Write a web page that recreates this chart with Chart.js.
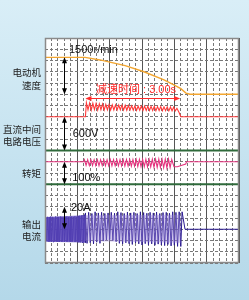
<!DOCTYPE html>
<html><head><meta charset="utf-8">
<script src="https://cdn.jsdelivr.net/npm/chart.js@4.4.0/dist/chart.umd.min.js"></script>
<style>
html,body{margin:0;padding:0;}
body{width:249px;height:300px;background:linear-gradient(#d9eef7,#b4d8e9);overflow:hidden;}
canvas{display:block;}
</style></head><body>
<canvas id="c" width="249" height="300"></canvas>
<script>
// ---- data (grid divisions: x 0..30 minor divs, y 0..20 divs from bottom) ----
const greenLevels = [10, 7];

const speedX = [0, 6.2, 8.5, 12.4, 15.3, 18.4, 20.0, 21.0, 21.8, 22.4, 30];
const speedY = [18.28, 18.28, 18.05, 17.55, 17.0, 16.27, 15.82, 15.5, 15.1, 15.0, 15.0];

const voltageHeadX = [0, 6.25];
const voltageHeadY = [13, 13];
const voltageWaveStart = 6.4, voltageWaveStep = 0.25;
const voltageWave = [14.25,13.62, 14.22,13.6, 14.2,13.63, 14.18,13.6, 14.15,13.62, 14.12,13.6, 14.1,13.62, 14.08,13.6, 14.06,13.61, 14.05,13.6, 14.04,13.62, 14.03,13.6, 14.02,13.58, 14.0,13.6, 13.98,13.58, 13.97,13.57, 13.96,13.58, 13.95,13.56, 13.94,13.56, 13.93,13.55, 13.92,13.55, 13.92,13.54, 13.9,13.55, 13.9,13.53, 13.88,13.54, 13.88,13.52, 13.87,13.53, 13.86,13.52];
const voltageTailX = [20.4, 20.75, 21.0, 30];
const voltageTailY = [13.75, 13.35, 13.0, 13.0];

const torqueHeadX = [0, 6.0];
const torqueHeadY = [9, 9];
const torqueWaveStart = 6.1, torqueWaveStep = 0.25;
const torqueWave = [9.17,8.68, 9.18,8.66, 9.17,8.67, 9.18,8.66, 9.17,8.65, 9.18,8.66, 9.17,8.65, 9.18,8.66, 9.19,8.64, 9.18,8.65, 9.19,8.63, 9.18,8.64, 9.19,8.62, 9.2,8.62, 9.19,8.6, 9.2,8.6, 9.2,8.58, 9.21,8.58, 9.2,8.56, 9.21,8.55, 9.21,8.54, 9.22,8.52, 9.22,8.5, 9.23,8.5, 9.22,8.48, 9.23,8.47, 9.22,8.47, 9.2];
const torqueTailX = [19.95, 20.46, 21.76, 21.88, 30];
const torqueTailY = [8.56, 8.56, 8.8, 9.0, 9.0];

// dense part of the output current (before deceleration)
const currentDenseStart = 0, currentDenseStep = 0.125;
const currentDense = [3.0, 4.05,1.95, 4.1,1.9, 4.08,1.92, 4.12,1.9, 4.1,1.88, 4.05,1.92, 4.12,1.9, 4.1,1.9, 4.08,1.88, 4.12,1.92, 4.1,1.9, 4.05,1.88, 4.1,1.92, 4.12,1.9, 4.08,1.9, 4.1,1.88, 4.12,1.9, 4.1,1.92, 4.15,1.88, 4.1,1.86, 4.18,1.85, 4.2,1.84, 4.22,1.82, 4.25,1.82, 4.3,1.8];
// sparser part during deceleration
const currentWaveStart = 6.25, currentWaveStep = 0.25;
const currentWave = [4.45,1.75, 4.5,1.8, 4.4,1.7, 4.55,1.85, 4.45,1.75, 4.5,1.95, 4.4,2.05, 4.45,2.1, 4.5,2.0, 4.42,1.9, 4.55,1.75, 4.48,1.7, 4.4,1.8, 4.52,1.72, 4.45,1.65, 4.5,1.78, 4.4,1.7, 4.55,1.6, 4.48,1.72, 4.42,1.62, 4.5,1.7, 4.45,1.58, 4.52,1.68, 4.4,1.6, 4.48,1.55, 4.5,1.65, 4.42,1.52, 4.55,1.58, 4.5,1.48, 4.55,1.47];
const currentTailX = [21.2, 21.65, 30];
const currentTailY = [4.55, 3.0, 3.0];
const denseBandX = [0, 6.2];
const denseBandTop = [4.1, 4.25];
const denseBandBottom = [1.9, 1.82];
const lightBandX = [6.2, 21.0];
const lightBandTop = [4.25, 4.3];
const lightBandBottom = [1.95, 1.8];

const rowLabels = [
  {text:'电动机', y:16.98}, {text:'速度', y:15.78},
  {text:'直流中间', y:11.91}, {text:'电路电压', y:10.78},
  {text:'转矩', y:8.0},
  {text:'输出', y:3.47}, {text:'电流', y:2.34}
];
const scaleLabels = [
  {text:'1500r/min', x:3.71, y:18.93},
  {text:'600V', x:4.28, y:11.51},
  {text:'100%', x:4.2, y:7.53},
  {text:'20A', x:4.02, y:4.93}
];
const decelText = '减速时间 : 3.00s';
const vArrows = [[2.95,18.28,15.0],[2.95,13,10],[2.95,9,7],[2.95,5,3]];
const decelArrow = [6.25, 20.9, 14.67];

// ---- build ----
const pairs = (xs, ys) => xs.map((x,i)=>({x, y:ys[i]}));
const wave = (x0, step, ys) => ys.map((y,i)=>({x:x0+i*step, y}));

const datasets = [];
greenLevels.forEach(v=>datasets.push({data:[{x:0,y:v},{x:30,y:v}],borderColor:'#2f6a3b',borderWidth:2}));
datasets.push({data:pairs(speedX,speedY),borderColor:'#f3a630',borderWidth:1.4});
datasets.push({data:[...pairs(voltageHeadX,voltageHeadY),...wave(voltageWaveStart,voltageWaveStep,voltageWave),...pairs(voltageTailX,voltageTailY)],borderColor:'#ff3a3a',borderWidth:1.1});
datasets.push({data:[...pairs(torqueHeadX,torqueHeadY),...wave(torqueWaveStart,torqueWaveStep,torqueWave),...pairs(torqueTailX,torqueTailY)],borderColor:'#e6347f',borderWidth:1.1});
datasets.push({data:pairs(denseBandX,denseBandTop),borderColor:'rgba(0,0,0,0)',borderWidth:0,fill:false});
datasets.push({data:pairs(denseBandX,denseBandBottom),borderColor:'rgba(0,0,0,0)',borderWidth:0,fill:'-1',backgroundColor:'rgba(95,75,190,0.75)'});
datasets.push({data:pairs(lightBandX,lightBandTop),borderColor:'rgba(0,0,0,0)',borderWidth:0,fill:false});
datasets.push({data:pairs(lightBandX,lightBandBottom),borderColor:'rgba(0,0,0,0)',borderWidth:0,fill:'-1',backgroundColor:'rgba(150,130,215,0.45)'});
datasets.push({data:[...wave(currentDenseStart,currentDenseStep,currentDense),...wave(currentWaveStart,currentWaveStep,currentWave),...pairs(currentTailX,currentTailY)],borderColor:'#2c1c92',borderWidth:1});

const deco = {
  id:'deco',
  beforeDraw(chart){
    const {ctx, chartArea:a} = chart;
    ctx.save(); ctx.fillStyle='#fff'; ctx.fillRect(a.left,a.top,a.right-a.left,a.bottom-a.top); ctx.restore();
  },
  afterDraw(chart){
    const {ctx, chartArea:a, scales} = chart;
    const X = v=>scales.x.getPixelForValue(v), Y = v=>scales.y.getPixelForValue(v);
    ctx.save();
    ctx.strokeStyle='#8a8a8a'; ctx.lineWidth=1.5;
    ctx.strokeRect(a.left+0.5,a.top+0.5,a.right-a.left-1,a.bottom-a.top-1);
    const head=(x,y,dir,color)=>{ctx.fillStyle=color;ctx.beginPath();ctx.moveTo(x,y);ctx.lineTo(x-2.5,y+dir*6);ctx.lineTo(x+2.5,y+dir*6);ctx.closePath();ctx.fill();};
    vArrows.forEach(([xv,y1,y2])=>{
      const x=Math.round(X(xv))+0.5, t=Y(y1), b=Y(y2);
      ctx.strokeStyle='#000'; ctx.lineWidth=1;
      ctx.beginPath(); ctx.moveTo(x,t+3); ctx.lineTo(x,b-3); ctx.stroke();
      head(x,t,1,'#000'); head(x,b,-1,'#000');
    });
    {
      const l=X(decelArrow[0]), r=X(decelArrow[1]), y=Math.round(Y(decelArrow[2]))+0.5;
      ctx.strokeStyle='#ff2a2a'; ctx.fillStyle='#ff2a2a'; ctx.lineWidth=1;
      ctx.beginPath(); ctx.moveTo(l+3,y); ctx.lineTo(r-3,y); ctx.stroke();
      ctx.beginPath(); ctx.moveTo(l,y); ctx.lineTo(l+6,y-2.5); ctx.lineTo(l+6,y+2.5); ctx.closePath(); ctx.fill();
      ctx.beginPath(); ctx.moveTo(r,y); ctx.lineTo(r-6,y-2.5); ctx.lineTo(r-6,y+2.5); ctx.closePath(); ctx.fill();
    }
    ctx.textBaseline='middle';
    ctx.font='11px "Liberation Sans", Arial, sans-serif'; ctx.fillStyle='#111'; ctx.textAlign='left';
    scaleLabels.forEach(s=>ctx.fillText(s.text, X(s.x), Y(s.y)));
    ctx.font='11px "Liberation Sans", "Noto Sans CJK SC", sans-serif'; ctx.fillStyle='#ff2a2a';
    ctx.fillText(decelText, X(7.89), Y(15.38));
    ctx.font='9.5px "Noto Sans CJK SC", sans-serif'; ctx.fillStyle='#222'; ctx.textAlign='right';
    rowLabels.forEach(s=>ctx.fillText(s.text, X(-0.6), Y(s.y)));
    ctx.restore();
  }
};

new Chart(document.getElementById('c'), {
  type:'line',
  data:{datasets},
  options:{
    responsive:false, animation:false, devicePixelRatio:1,
    layout:{padding:{left:45,top:38,right:10,bottom:37}},
    plugins:{legend:{display:false},tooltip:{enabled:false}},
    elements:{point:{radius:0},line:{tension:0}},
    scales:{
      x:{type:'linear',min:0,max:30,ticks:{display:false,stepSize:1},grid:{color:'#777',lineWidth:1,drawTicks:false},border:{display:false,dash:[3,2]}},
      xMajor:{type:'linear',axis:'x',position:'bottom',min:0,max:30,ticks:{display:false,stepSize:5},grid:{color:'#555',lineWidth:1,drawTicks:false},border:{display:false}},
      y:{type:'linear',min:0,max:20,ticks:{display:false,stepSize:1},grid:{color:'#777',lineWidth:1,drawTicks:false},border:{display:false,dash:[3,2]}}
    }
  },
  plugins:[deco]
});
</script></body></html>
